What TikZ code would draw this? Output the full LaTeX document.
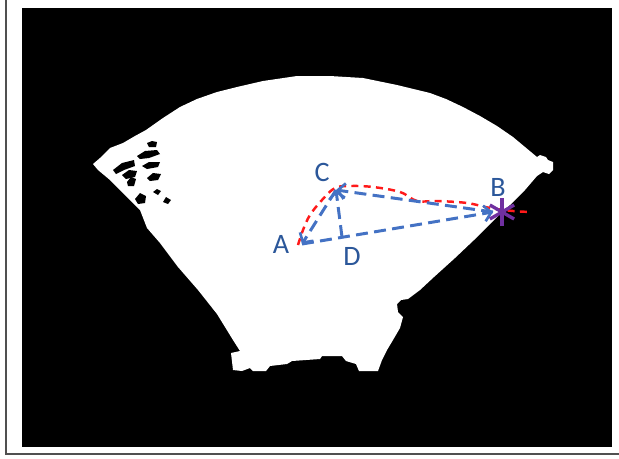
\documentclass[tikz,border=0pt]{standalone}
\usepackage{fontspec}
\setmainfont{Carlito}
\usetikzlibrary{arrows.meta}
\definecolor{vecblue}{HTML}{4472C4}
\definecolor{lblblue}{HTML}{2B579A}
\definecolor{pathred}{HTML}{FF1A1A}
\definecolor{starpurple}{HTML}{7030A0}
\definecolor{framegray}{HTML}{505050}
\begin{document}
\begin{tikzpicture}[x=0.02cm, y=-0.02cm]
    \tikzstyle{vec}=[vecblue, line width=1.7pt, dash pattern=on 6.8pt off 3.6pt, -{Straight Barb[length=4pt, width=9pt, line width=1.5pt]}]
    \tikzstyle{route}=[pathred, line width=1.4pt, dash pattern=on 4pt off 3pt]
    \tikzstyle{lbl}=[text=lblblue, font=\fontsize{16}{18}\selectfont, inner sep=0pt]
    \useasboundingbox (0,0) rectangle (619,458);
    \fill[white] (0,0) rectangle (619,458);
    \draw[framegray, line width=1pt] (6,0) -- (6,454) -- (619,454);
    \fill[black] (22,8) rectangle (612,447);
    % white field of view
    \fill[white] (146,130) -- (163,118) -- (180,107) -- (197,99) -- (217,92) -- (237,87)
      -- (263,81) -- (297,76) -- (330,76) -- (363,78) -- (397,85) -- (430,93) -- (446,99)
      -- (463,107) -- (480,116) -- (497,126) -- (513,137) -- (525,147) -- (537,157)
      -- (540,155) -- (546,157) -- (548,160) -- (553,162) -- (553,170) -- (549,174)
      -- (543,172) -- (537,176) -- (525,190) -- (510,205) -- (497,217) -- (485,229)
      -- (474,240) -- (455,258) -- (434,277) -- (420,290) -- (408,299) -- (401,300)
      -- (397,304) -- (398,312) -- (403,317) -- (400,328) -- (393,340) -- (387,350)
      -- (382,360) -- (378,371) -- (359,371) -- (356,364) -- (346,361) -- (342,356)
      -- (322,356) -- (320,359) -- (292,361) -- (287,364) -- (270,366) -- (266,371)
      -- (253,371) -- (250,368) -- (242,371) -- (233,370) -- (231,353) -- (240,351)
      -- (233,340) -- (217,314) -- (198,290) -- (178,267) -- (160,243) -- (147,228)
      -- (140,210) -- (123,193) -- (110,180) -- (98,170) -- (93,164) -- (100,158)
      -- (110,148) -- (123,143) -- (135,136) -- cycle;
    % holes in the left part
    \fill[black] (113,170) -- (122,163) -- (134,160) -- (135,166) -- (124,170) -- (116,174) -- cycle;
    \fill[black] (147,143) -- (152,141) -- (157,142) -- (156,147) -- (149,147) -- cycle;
    \fill[black] (137,156) -- (145,151) -- (157,150) -- (160,154) -- (149,158) -- (140,159) -- cycle;
    \fill[black] (142,166) -- (149,162) -- (160,162) -- (158,167) -- (147,169) -- cycle;
    \fill[black] (122,175) -- (129,170) -- (137,171) -- (135,177) -- (126,179) -- cycle;
    \fill[black] (127,182) -- (131,177) -- (136,179) -- (134,186) -- (128,186) -- cycle;
    \fill[black] (147,178) -- (153,173) -- (161,174) -- (158,180) -- (150,181) -- cycle;
    \fill[black] (153,192) -- (157,189) -- (161,191) -- (158,195) -- cycle;
    \fill[black] (135,199) -- (140,193) -- (146,196) -- (145,203) -- (138,204) -- cycle;
    \fill[black] (163,202) -- (166,197) -- (171,200) -- (168,204) -- cycle;
    % points
    \coordinate (A) at (302,244);
    \coordinate (C) at (336,190);
    \coordinate (D) at (342,237);
    \coordinate (B) at (502,212);
    \coordinate (Bend) at (493,212);
    % travelled route
    \draw[route] plot[smooth, tension=0.6] coordinates {(298,245) (303,230) (310,215) (322,200)
      (335,188) (350,186) (373,187) (400,192) (417,201) (437,201) (467,203) (490,208)
      (513,211) (532,212)};
    % vectors
    \draw[vec] (Bend) -- (C);
    \draw[vec] (C) -- (A);
    \draw[vec] (A) -- (Bend);
    \draw[vec] (D) -- (C);
    \tikzstyle{star}=[starpurple, line width=1.9pt]
    \foreach \a in {90,30,-30}
      \draw[star] ([shift={(\a:14)}]B) -- ([shift={(\a+180:14)}]B);
    \node[lbl] (lA) at (281,244) {A};
    \node[lbl] (lB) at (498,187) {B};
    \node[lbl] (lC) at (322,172) {C};
    \node[lbl] (lD) at (352,256) {D};
\end{tikzpicture}
\end{document}
